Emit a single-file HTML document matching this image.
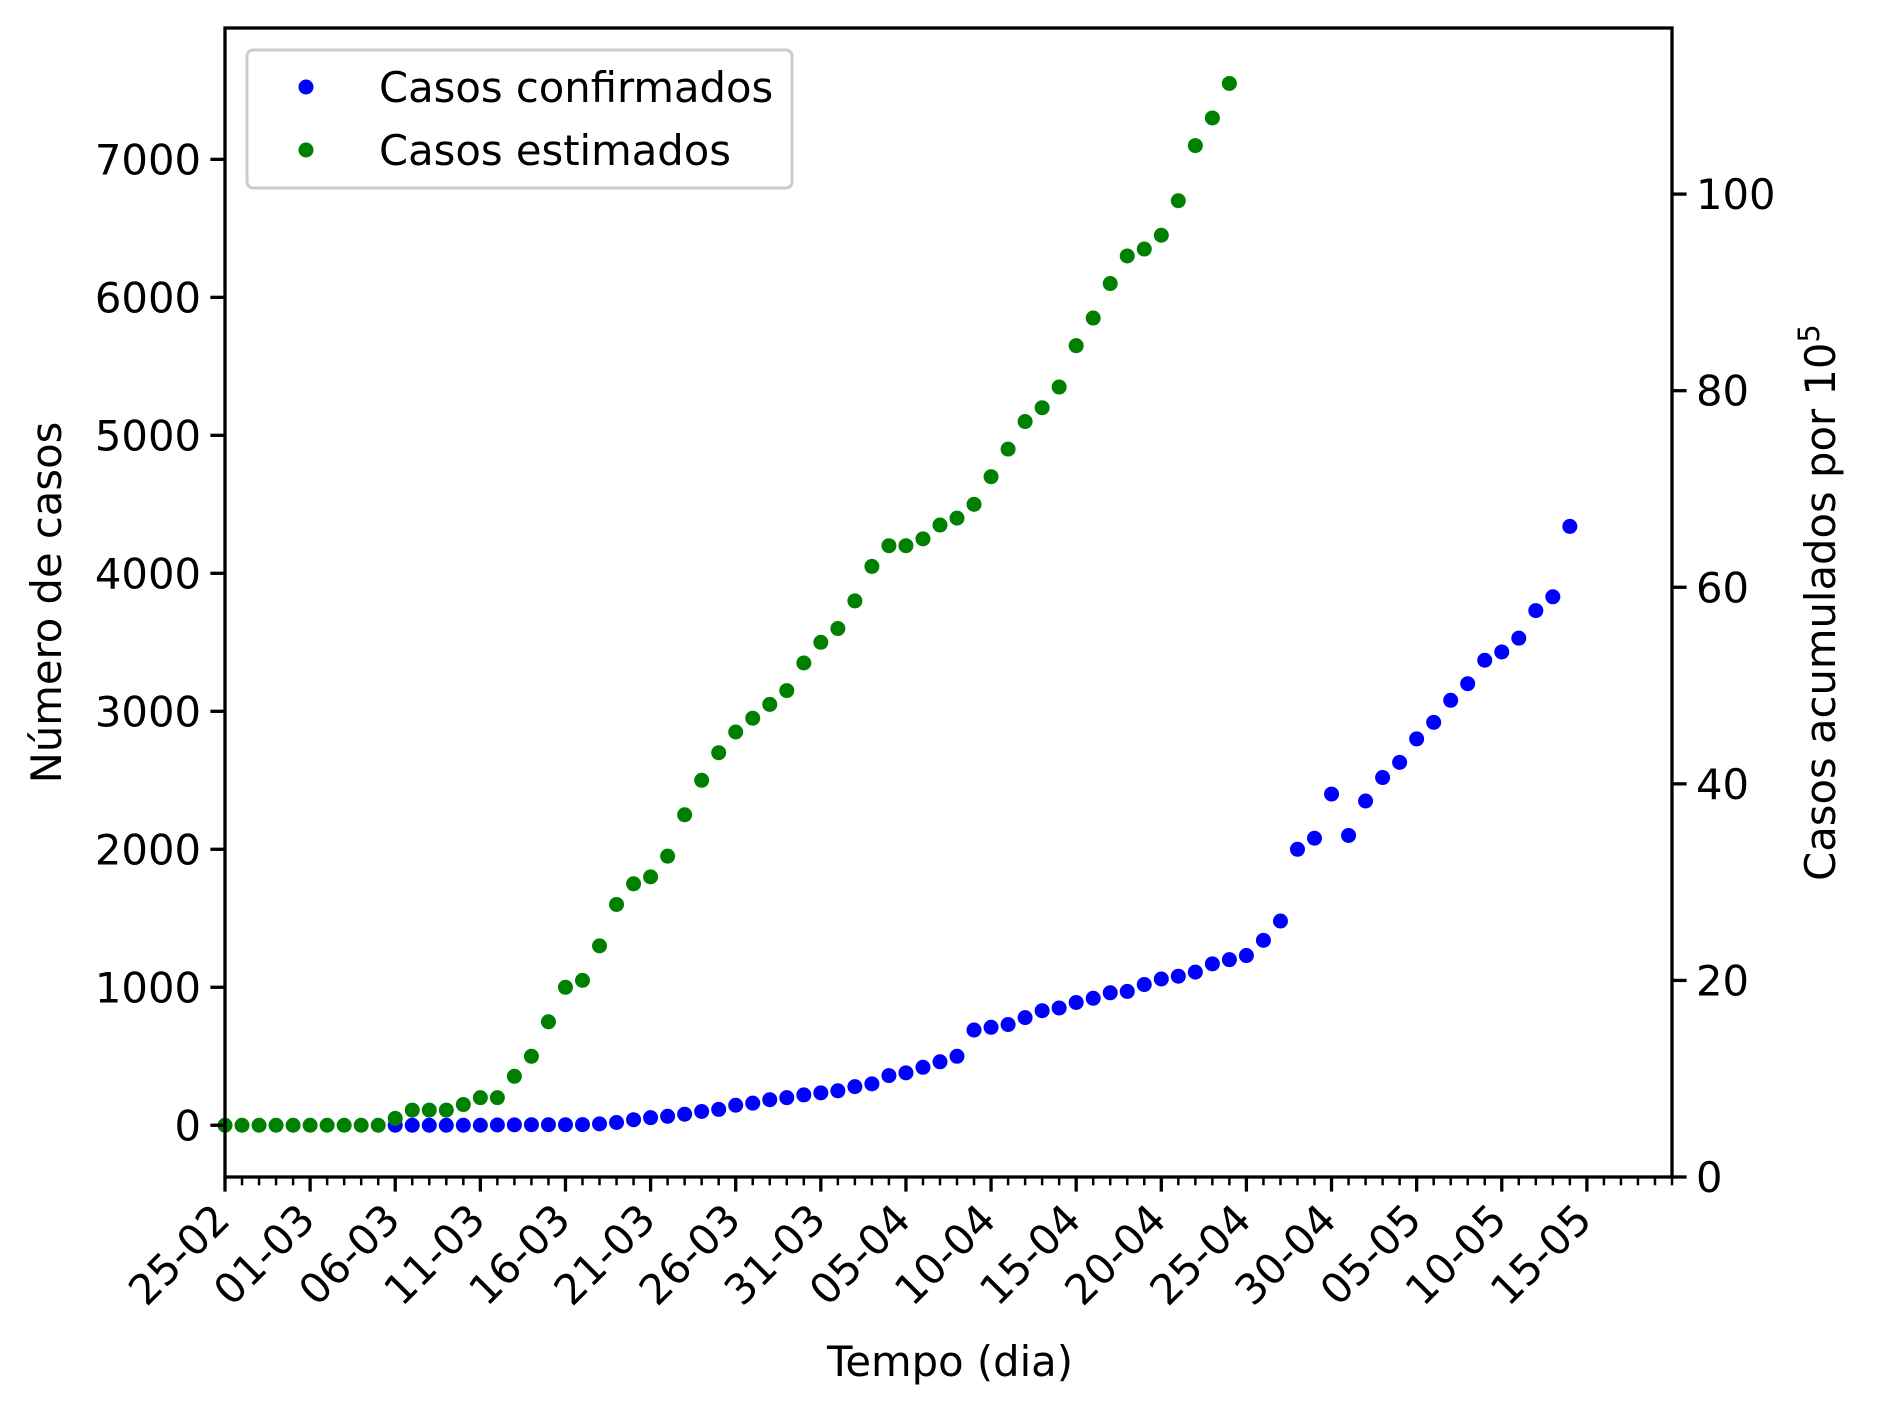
<!DOCTYPE html>
<html><head><meta charset="utf-8"><style>
html,body{margin:0;padding:0;background:#fff;}
svg{display:block;font-family:"DejaVu Sans","Liberation Sans",sans-serif;}
</style></head><body>
<svg id="chart" width="1877" height="1410" viewBox="0 0 1877 1410" xmlns="http://www.w3.org/2000/svg">
<g id="plot"></g>
</svg>
<script>
const dateLabels = ["25-02","01-03","06-03","11-03","16-03","21-03","26-03","31-03","05-04","10-04","15-04","20-04","25-04","30-04","05-05","10-05","15-05"];
const leftTicks = [0,1000,2000,3000,4000,5000,6000,7000];
const rightTicks = [0,20,40,60,80,100];
const confirmedStart = 10;
const confirmed = [0,0,0,0,0,0,2,3,4,4,4,5,10,20,40,55,65,80,100,115,145,160,185,200,220,235,250,280,300,360,380,420,460,500,690,710,730,780,830,850,890,920,960,970,1020,1060,1080,1110,1170,1200,1230,1340,1480,2000,2080,2400,2100,2350,2520,2630,2800,2920,3080,3200,3370,3430,3530,3730,3830,4340];
const estimatedStart = 0;
const estimated = [0,0,0,0,0,0,0,0,0,0,50,110,110,110,150,200,200,355,500,750,1000,1050,1300,1600,1750,1800,1950,2250,2500,2700,2850,2950,3050,3150,3350,3500,3600,3800,4050,4200,4200,4250,4350,4400,4500,4700,4900,5100,5200,5350,5650,5850,6100,6300,6350,6450,6700,7100,7300,7550];

const NS="http://www.w3.org/2000/svg";
const L=225,R=1672,T=28,B=1177;
const xMin=0,xMax=85,yMin=-375,yMax=7952,y2Min=0,y2Max=116.9;
const xs=d=>L+(d-xMin)/(xMax-xMin)*(R-L);
const ys=v=>B-(v-yMin)/(yMax-yMin)*(B-T);
const ys2=v=>B-(v-y2Min)/(y2Max-y2Min)*(B-T);
const g=document.getElementById('plot');
function mk(tag,attrs,parent){const e=document.createElementNS(NS,tag);for(const k in attrs)e.setAttribute(k,attrs[k]);(parent||g).appendChild(e);return e;}
const FS=41.7;
const PR=7.5;

const gc=mk('g',{});


confirmed.forEach((v,i)=>{const c=mk('circle',{cx:xs(confirmedStart+i),cy:ys(v),r:PR,fill:'#0000ff'},gc);

});
const ge=mk('g',{});


estimated.forEach((v,i)=>{const c=mk('circle',{cx:xs(estimatedStart+i),cy:ys(v),r:PR,fill:'#008000'},ge);

});

const fr=mk('rect',{x:L,y:T,width:R-L,height:B-T,fill:'none',stroke:'#000','stroke-width':3.3});



for(let d=0;d<=xMax;d++){const major=d%5===0&&d/5<dateLabels.length;
mk('line',{x1:xs(d),x2:xs(d),y1:B,y2:B+(major?14.6:8.3),stroke:'#000','stroke-width':major?3.3:2.5});}
dateLabels.forEach((lab,i)=>{const x=xs(i*5);
const t=mk('text',{x:0,y:0,'font-size':FS,'text-anchor':'end',transform:`translate(${x+7},${B+45}) rotate(-45)`});
t.textContent=lab;

});

leftTicks.forEach(v=>{const y=ys(v);mk('line',{x1:L-14.6,x2:L,y1:y,y2:y,stroke:'#000','stroke-width':3.3});
const t=mk('text',{x:L-24,y:y+15,'font-size':FS,'text-anchor':'end'});t.textContent=v;

});
rightTicks.forEach(v=>{const y=ys2(v);mk('line',{x1:R,x2:R+14.6,y1:y,y2:y,stroke:'#000','stroke-width':3.3});
const t=mk('text',{x:R+24,y:y+15,'font-size':FS,'text-anchor':'start'});t.textContent=v;

});

let t=mk('text',{x:950,y:1376,'font-size':FS,'text-anchor':'middle'});t.textContent='Tempo (dia)';


t=mk('text',{x:0,y:0,'font-size':FS,'text-anchor':'middle',transform:`translate(61,${(T+B)/2}) rotate(-90)`});t.textContent='Número de casos';


t=mk('text',{x:0,y:0,'font-size':FS,'text-anchor':'middle',transform:`translate(1835,${(T+B)/2}) rotate(-90)`});
t.innerHTML='Casos acumulados por 10<tspan font-size="29" dy="-16">5</tspan>';



const lg=mk('g',{});


mk('rect',{x:247,y:50,width:545,height:138,rx:6,fill:'#fff','fill-opacity':0.8,stroke:'#cccccc','stroke-width':3},lg);
[['Casos confirmados','#0000ff',87],['Casos estimados','#008000',150]].forEach(([lab,col,y])=>{
const e=mk('g',{},lg);


mk('circle',{cx:306,cy:y,r:PR,fill:col},e);
const tx=mk('text',{x:379,y:y+15,'font-size':FS},e);tx.textContent=lab;});
</script>
</body></html>
